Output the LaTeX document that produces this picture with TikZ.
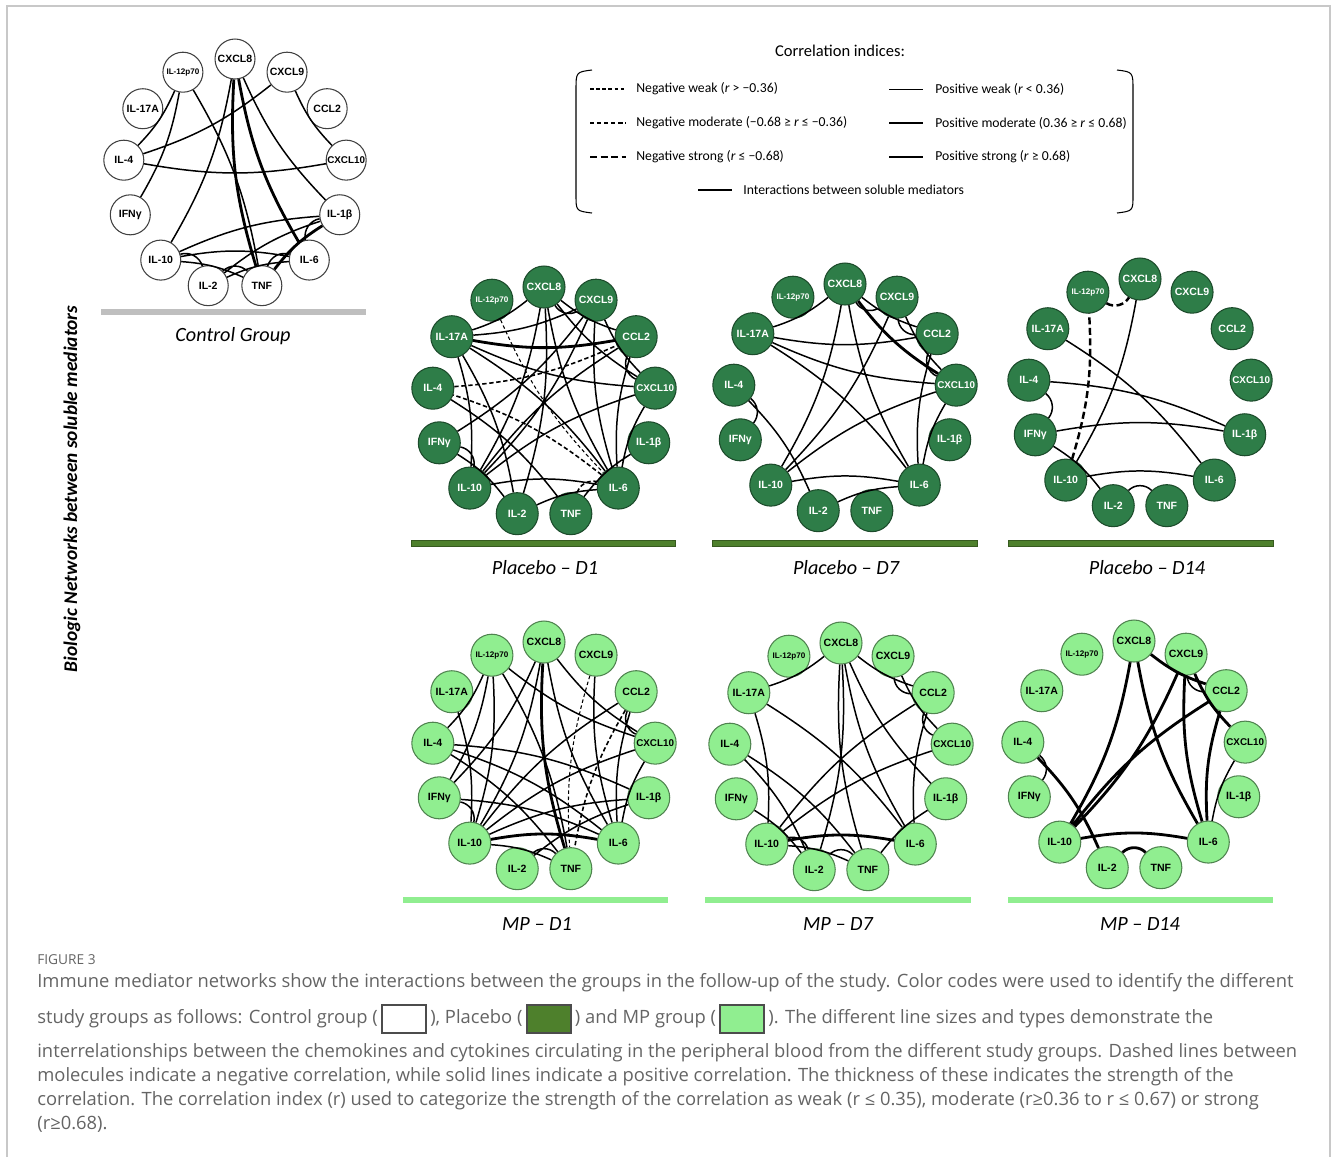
\documentclass[tikz,border=0pt]{standalone}
\usepackage{fontspec}
\setmainfont{Carlito}
\newfontfamily\medfont{Liberation Sans}
\newfontfamily\capfont{Open Sans}
\usetikzlibrary{positioning,calc}
\definecolor{placgreen}{RGB}{46,125,72}
\definecolor{placbar}{RGB}{78,128,44}
\definecolor{mpgreen}{RGB}{144,238,144}
\definecolor{capgray}{RGB}{100,100,100}
\definecolor{framegray}{RGB}{200,200,200}

\begin{document}
\begin{tikzpicture}[x=0.02cm, y=-0.02cm,
                    med/.style={circle, draw, line width=0.6pt, minimum size=0.84cm, inner sep=0pt, font=\medfont\bfseries\fontsize{6}{6}\selectfont},
                    ctrl/.style={med, draw=black!75, fill=white, minimum size=0.8cm},
                    plac/.style={med, draw=placgreen!60!black, fill=placgreen, text=white},
                    mpg/.style={med, draw=mpgreen!55!black, fill=mpgreen},
                    lnk/.style={bend right=10},
                    nb/.style={bend right=45},
                    posweak/.style={lnk, line width=0.5pt},
                    posmod/.style={lnk, line width=0.85pt},
                    posstrong/.style={lnk, line width=1.6pt},
                    negweak/.style={lnk, line width=0.6pt, dash pattern=on 2pt off 1.5pt},
                    negmod/.style={lnk, line width=0.9pt, dash pattern=on 2.5pt off 1.5pt},
                    negstrong/.style={lnk, line width=1.4pt, dash pattern=on 4pt off 2pt},
                    grplbl/.style={font=\itshape\fontsize{11.5}{13}\selectfont},
                    legtxt/.style={anchor=west, inner sep=0pt, font=\fontsize{7.8}{9}\selectfont},
                    captxt/.style={inner sep=0pt, text height=1.6ex, text depth=0.45ex, text=capgray, font=\capfont\fontsize{10.45}{12}\selectfont},
                    capbox/.style={draw=black!70, line width=1pt, minimum width=0.88cm, minimum height=0.56cm, inner sep=0pt}]
\useasboundingbox (0,0) rectangle (1331,1157);
\draw[framegray, line width=1.2pt] (7,1157) -- (7,6) -- (1330,6) -- (1330,1157);

\foreach \g/\cx/\cy/\s in {c/235/174/ctrl, pa/544/402/plac, pb/845/399/plac, pc/1140/394/plac, ma/544/757/mpg, mb/841/758/mpg, mc/1134/756/mpg}
    \foreach \m/\t [count=\i] in {x8/CXCL8, x9/CXCL9, cc2/CCL2, x10/{\fontsize{5.6}{6}\selectfont CXCL10}, b1/IL-1β, i6/IL-6, tnf/TNF, i2/IL-2, i10/IL-10, ifn/IFNγ, i4/IL-4, i17/IL-17A, i12/{\fontsize{4.6}{5}\selectfont IL-12p70}}
        \node[\s] (\g-\m) at ($(\cx,\cy)+({-117.69+27.69*\i}:112 and 115)$) {\t};

\draw[posmod] (c-i4) to (c-i12) (c-ifn) to (c-i12) (c-tnf) to (c-i12) (c-i4) to (c-x9) (c-x9) to (c-x10) (c-i4) to (c-x10) (c-i10) to (c-x8) (c-x8) to (c-b1) (c-b1) to (c-i10) (c-i6) to (c-i10) (c-tnf) to (c-i10) (c-i2) to[nb] (c-i10) (c-tnf) to[nb] (c-i2) (c-b1) to (c-i2) (c-i6) to (c-i2) (c-i6) to[nb] (c-tnf) (c-b1) to[nb] (c-i6);
\draw[posstrong] (c-x8) to (c-tnf) (c-x8) to (c-i6) (c-b1) to (c-tnf);

\draw[posmod] (pa-i17) to (pa-x8) (pa-i17) to (pa-x9) (pa-i17) to (pa-x10) (pa-i10) to (pa-i17) (pa-i2) to (pa-i17) (pa-i6) to (pa-i17) (pa-tnf) to (pa-i4) (pa-i10) to[nb] (pa-ifn) (pa-i2) to (pa-ifn) (pa-ifn) to (pa-x9) (pa-i10) to (pa-x8) (pa-i10) to (pa-x9) (pa-cc2) to (pa-i10) (pa-x10) to (pa-i10) (pa-i6) to (pa-i10) (pa-i6) to (pa-i2) (pa-b1) to (pa-tnf) (pa-x8) to[nb] (pa-x9) (pa-x8) to (pa-cc2) (pa-x8) to (pa-x10) (pa-x8) to (pa-i6) (pa-i2) to (pa-x8) (pa-x9) to (pa-x10) (pa-x9) to (pa-i6) (pa-cc2) to[nb] (pa-x10) (pa-cc2) to (pa-i6) (pa-x10) to (pa-i6);
\draw[posstrong] (pa-i17) to (pa-cc2);
\draw[negweak] (pa-i12) to (pa-i6);
\draw[negmod] (pa-i4) to (pa-cc2) (pa-i6) to (pa-i4) (pa-i6) to[nb] (pa-tnf);

\draw[posmod] (pb-i17) to (pb-x8) (pb-i17) to (pb-cc2) (pb-i17) to (pb-x10) (pb-i6) to (pb-i17) (pb-ifn) to[nb] (pb-i4) (pb-i2) to (pb-i4) (pb-i10) to (pb-x8) (pb-i10) to (pb-x9) (pb-x10) to (pb-i10) (pb-i6) to (pb-i10) (pb-i6) to (pb-i2) (pb-x8) to[nb] (pb-x9) (pb-x8) to (pb-cc2) (pb-x8) to (pb-i6) (pb-x9) to[nb] (pb-cc2) (pb-x9) to (pb-x10) (pb-cc2) to[nb] (pb-x10) (pb-cc2) to (pb-i6) (pb-x10) to (pb-i6);
\draw[posstrong] (pb-x8) to (pb-x10);

\draw[posmod] (pc-i10) to (pc-x8) (pc-i6) to (pc-i17) (pc-b1) to (pc-i4) (pc-ifn) to[nb] (pc-i4) (pc-b1) to (pc-ifn) (pc-i2) to (pc-ifn) (pc-i6) to (pc-i10) (pc-tnf) to[nb] (pc-i2);
\draw[negstrong] (pc-i12) to[nb] (pc-x8) (pc-i10) to (pc-i12);

\draw[posmod] (ma-i4) to (ma-i12) (ma-ifn) to (ma-i12) (ma-i10) to (ma-i12) (ma-i12) to (ma-x10) (ma-tnf) to (ma-i12) (ma-i10) to (ma-i17) (ma-ifn) to (ma-x8) (ma-i10) to (ma-x8) (ma-x8) to (ma-i6) (ma-x8) to (ma-x10) (ma-x9) to (ma-i6) (ma-cc2) to[nb] (ma-x10) (ma-cc2) to (ma-i6) (ma-cc2) to (ma-i10) (ma-x10) to (ma-i10) (ma-x10) to (ma-i6) (ma-b1) to (ma-i4) (ma-i6) to (ma-i4) (ma-tnf) to (ma-i4) (ma-i10) to[nb] (ma-ifn) (ma-i6) to (ma-ifn) (ma-b1) to (ma-i10) (ma-tnf) to (ma-i10) (ma-tnf) to[nb] (ma-i2) (ma-b1) to (ma-i2);
\draw[posstrong] (ma-x8) to (ma-tnf) (ma-i6) to (ma-i10);
\draw[negweak] (ma-x9) to (ma-tnf);
\draw[negmod] (ma-cc2) to (ma-tnf);

\draw[posmod] (mb-i17) to (mb-x8) (mb-i10) to (mb-i17) (mb-i6) to (mb-i17) (mb-i2) to (mb-i4) (mb-tnf) to (mb-i4) (mb-i2) to (mb-ifn) (mb-cc2) to (mb-i10) (mb-x10) to (mb-i10) (mb-tnf) to (mb-i10) (mb-i2) to[nb] (mb-i10) (mb-i2) to (mb-x8) (mb-x8) to (mb-tnf) (mb-x8) to (mb-i6) (mb-x8) to (mb-b1) (mb-x8) to (mb-cc2) (mb-x9) to (mb-x10) (mb-x9) to[nb] (mb-cc2) (mb-cc2) to[nb] (mb-x10) (mb-cc2) to (mb-i6) (mb-tnf) to[nb] (mb-i2) (mb-b1) to (mb-tnf);
\draw[posstrong] (mb-i6) to (mb-i10);

\draw[posstrong] (mc-i10) to (mc-x8) (mc-x8) to (mc-i6) (mc-x8) to (mc-cc2) (mc-i10) to (mc-x9) (mc-x9) to (mc-i6) (mc-x9) to (mc-x10) (mc-cc2) to (mc-i10) (mc-cc2) to (mc-i6) (mc-i2) to (mc-i4) (mc-tnf) to[nb] (mc-i2) (mc-i6) to (mc-i10);
\draw[posmod] (mc-x9) to[nb] (mc-cc2) (mc-x10) to (mc-i6) (mc-ifn) to[nb] (mc-i4);

\fill[black!25] (101,309) rectangle (366,315);
\filldraw[fill=placbar, draw=placbar!70!black, line width=0.4pt] (411,540) rectangle (675,546);
\filldraw[fill=placbar, draw=placbar!70!black, line width=0.4pt] (712,540) rectangle (977,546);
\filldraw[fill=placbar, draw=placbar!70!black, line width=0.4pt] (1008,540) rectangle (1273,546);
\fill[mpgreen] (403,897) rectangle (668,903);
\fill[mpgreen] (705,897) rectangle (971,903);
\fill[mpgreen] (1008,897) rectangle (1273,903);

\node[grplbl] (c-lbl) at (233,336) {Control Group};
\node[grplbl] (pa-lbl) at (545,568) {Placebo – D1};
\node[grplbl] (pb-lbl) at (846,568) {Placebo – D7};
\node[grplbl] (pc-lbl) at (1147,568) {Placebo – D14};
\node[grplbl] (ma-lbl) at (537,924) {MP – D1};
\node[grplbl] (mb-lbl) at (838,924) {MP – D7};
\node[grplbl] (mc-lbl) at (1140,924) {MP – D14};

\node[rotate=90, font=\bfseries\itshape\fontsize{11}{13}\selectfont] (vlabel) at (72,489) {Biologic Networks between soluble mediators};

\node[font=\fontsize{9.4}{11}\selectfont] (legtitle) at (840,51) {Correlation indices:};
\draw[line width=0.6pt] (592,70) .. controls (576,72) .. (576,90) -- (576,195) .. controls (576,211) .. (592,213);
\draw[line width=0.6pt] (1117,70) .. controls (1133,72) .. (1133,90) -- (1133,195) .. controls (1133,211) .. (1117,213);
\draw[negweak] (590,89) -- (626,89);
\draw[negmod] (590,123) -- (626,123);
\draw[negstrong] (590,157) -- (626,157);
\draw[posweak] (889,89) -- (923,89);
\draw[posmod] (889,123) -- (923,123);
\draw[posstrong] (889,157) -- (923,157);
\draw[line width=1.2pt] (698,190) -- (732,190);
\node[legtxt] (lg-nw) at (636,89) {Negative weak (\textit{r} > −0.36)};
\node[legtxt] (lg-nm) at (636,123) {Negative moderate (−0.68 ≥ \textit{r} ≤ −0.36)};
\node[legtxt] (lg-ns) at (636,157) {Negative strong (\textit{r} ≤ −0.68)};
\node[legtxt] (lg-pw) at (935,89) {Positive weak (\textit{r} < 0.36)};
\node[legtxt] (lg-pm) at (935,123) {Positive moderate (0.36 ≥ \textit{r} ≤ 0.68)};
\node[legtxt] (lg-ps) at (935,157) {Positive strong (\textit{r} ≥ 0.68)};
\node[legtxt] (lg-in) at (743,190) {Interactions between soluble mediators};

\node[anchor=west, inner sep=0pt, text=capgray, font=\capfont\fontsize{7.8}{9}\selectfont] (figno) at (37,960) {FIGURE 3};
\node[captxt, anchor=west] (cap1) at (37,983) {Immune mediator networks show the interactions between the groups in the follow-up of the study. Color codes were used to identify the different};
\node[captxt, anchor=west] (cap2a) at (37,1019) {study groups as follows: Control group (};
\node[capbox, fill=white, right=1.7pt of cap2a] (box-c) {};
\node[captxt, right=1.7pt of box-c] (cap2b) {), Placebo (};
\node[capbox, fill=placbar, right=1.7pt of cap2b] (box-p) {};
\node[captxt, right=1.7pt of box-p] (cap2c) {) and MP group (};
\node[capbox, fill=mpgreen, right=1.7pt of cap2c] (box-m) {};
\node[captxt, right=1.7pt of box-m] (cap2d) {). The different line sizes and types demonstrate the};
\node[captxt, anchor=west] (cap3) at (37,1053) {interrelationships between the chemokines and cytokines circulating in the peripheral blood from the different study groups. Dashed lines between};
\node[captxt, anchor=west] (cap4) at (37,1077) {molecules indicate a negative correlation, while solid lines indicate a positive correlation. The thickness of these indicates the strength of the};
\node[captxt, anchor=west] (cap5) at (37,1101) {correlation. The correlation index (r) used to categorize the strength of the correlation as weak (r ≤ 0.35), moderate (r≥0.36 to r ≤ 0.67) or strong};
\node[captxt, anchor=west] (cap6) at (37,1125) {(r≥0.68).};
\end{tikzpicture}
\end{document}
